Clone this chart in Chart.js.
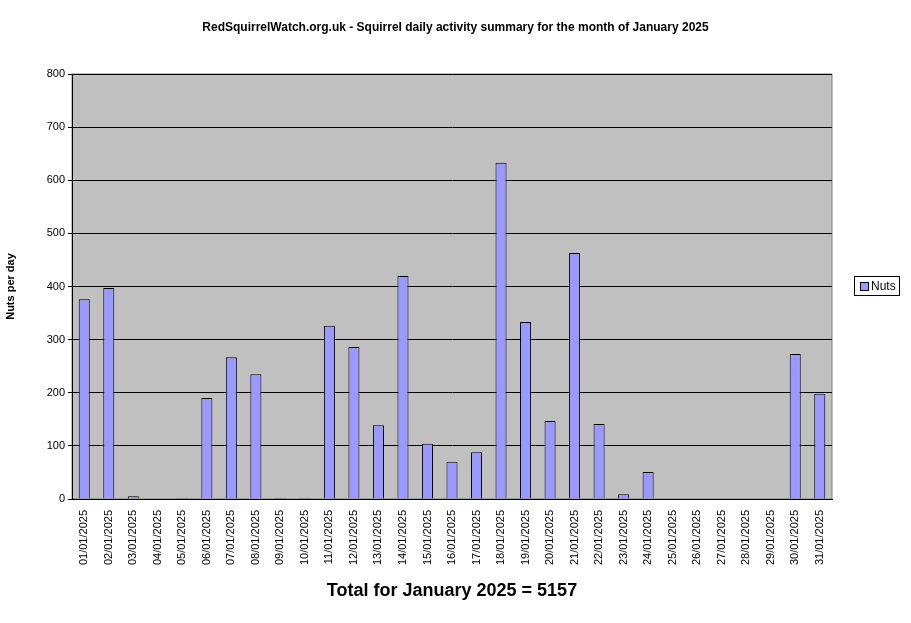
<!DOCTYPE html>
<html><head><meta charset="utf-8">
<script src="https://cdn.jsdelivr.net/npm/chart.js@4"></script>
<style>
body{margin:0;background:#fff;font-family:Arial,"Liberation Sans",sans-serif;}
#wrap{position:relative;width:911px;height:623px;}
#title{position:absolute;top:20px;left:0;width:911px;text-align:center;font-weight:bold;font-size:12px;}
#total{position:absolute;top:580px;left:72px;width:760px;text-align:center;font-weight:bold;font-size:18px;}
#leg{position:absolute;left:854px;top:276px;width:46px;height:20px;border:1px solid #000;font-size:12px;box-sizing:border-box;}
#leg span{position:absolute;left:5px;top:5px;width:7px;height:7px;background:#9999ff;border:1px solid #000;}
#leg b{position:absolute;left:16px;top:2px;font-weight:normal;}
</style></head><body>
<div id="wrap">
<canvas id="c" width="911" height="623"></canvas>
<div id="title">RedSquirrelWatch.org.uk - Squirrel daily activity summary for the month of January 2025</div>
<div id="total">Total for January 2025 = 5157</div>
<div id="leg"><span></span><b>Nuts</b></div>
</div>
<script>
const categories=[];for(let d=1;d<=31;d++){categories.push(String(d).padStart(2,'0')+'/01/2025');}
const nuts=[376,397,5,0,2,190,267,235,2,2,326,286,139,420,104,70,88,633,333,147,463,141,9,51,0,0,0,0,0,273,198];
const yTicks=[0,100,200,300,400,500,600,700,800];
const bg={id:'bg',beforeDraw(c){const a=c.chartArea,x=c.ctx;x.save();x.fillStyle='#c0c0c0';x.fillRect(a.left,a.top,a.right-a.left,a.bottom-a.top);x.strokeStyle='#808080';x.strokeRect(a.left,a.top,a.right-a.left,a.bottom-a.top);x.restore();}};
new Chart(document.getElementById('c'),{type:'bar',
data:{labels:categories,datasets:[{label:'Nuts',data:nuts,backgroundColor:'#9999ff',borderColor:'#000',borderWidth:1,barPercentage:0.45,categoryPercentage:1}]},
options:{responsive:false,animation:false,devicePixelRatio:1,
layout:{padding:{top:74,right:79,left:0,bottom:0}},
plugins:{legend:{display:false},tooltip:{enabled:false}},
scales:{
x:{grid:{display:false},border:{color:'#000'},ticks:{color:'#000',font:{family:'Arial',size:11},minRotation:90,maxRotation:90,autoSkip:false},afterFit(s){s.height=124;}},
y:{min:0,max:800,afterBuildTicks(s){s.ticks=yTicks.map(v=>({value:v}));},grid:{color:'#000',drawTicks:true,tickLength:4,tickColor:'#000'},border:{color:'#000'},
ticks:{color:'#000',font:{family:'Arial',size:11}},
title:{display:true,text:'Nuts per day',color:'#000',font:{family:'Arial',size:11,weight:'bold'}},afterFit(s){s.width=72;}}
}},plugins:[bg]});
</script></body></html>
